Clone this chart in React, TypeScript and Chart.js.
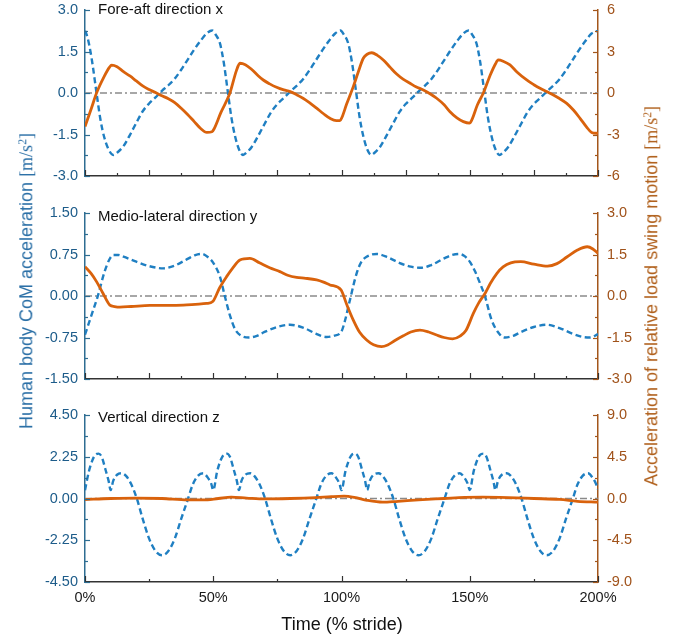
import React, { useEffect, useRef } from 'react';
import { Chart, registerables } from 'chart.js';
Chart.register(...registerables);

type Pt = [number, number];

const FONT = '"Liberation Sans", Arial, sans-serif';
const BLUE = '#1f7fc2';
const ORANGE = '#d9620c';
const GRAY = '#8a8a8a';
const LEFT_AXIS = '#2e6d92';
const LEFT_TEXT = '#1d5c8a';
const RIGHT_AXIS = '#a3561b';
const RIGHT_TEXT = '#a0521a';
const X_AXIS = '#333333';

// ---- x axis (time, % stride)
const xTickValues = [0, 50, 100, 150, 200];
const xTickLabels = ['0%', '50%', '100%', '150%', '200%'];
const zeroLine: Pt[] = [[0, 0], [200, 0]];

// ---- titles
const panelTitles = ['Fore-aft direction x', 'Medio-lateral direction y', 'Vertical direction z'];
const leftTitle = 'Human body CoM acceleration ';
const rightTitle = 'Acceleration of relative load swing motion ';
const xTitle = 'Time (% stride)';

// ---- y ticks
const leftTicksX = [-3, -1.5, 0, 1.5, 3];
const leftLabelsX = ['-3.0', '-1.5', '0.0', '1.5', '3.0'];
const rightTicksX = [-6, -3, 0, 3, 6];
const rightLabelsX = ['-6', '-3', '0', '3', '6'];
const leftTicksY = [-1.5, -0.75, 0, 0.75, 1.5];
const leftLabelsY = ['-1.50', '-0.75', '0.00', '0.75', '1.50'];
const rightTicksY = [-3, -1.5, 0, 1.5, 3];
const rightLabelsY = ['-3.0', '-1.5', '0.0', '1.5', '3.0'];
const leftTicksZ = [-4.5, -2.25, 0, 2.25, 4.5];
const leftLabelsZ = ['-4.50', '-2.25', '0.00', '2.25', '4.50'];
const rightTicksZ = [-9, -4.5, 0, 4.5, 9];
const rightLabelsZ = ['-9.0', '-4.5', '0.0', '4.5', '9.0'];

// ---- Fore-aft x : human body CoM acceleration (left axis)
const humanX: Pt[] = [
  [0, 2.25], [1, 2.0], [2.5, 1.3], [4.5, 0], [6, -0.95], [7.5, -1.6], [9, -2.0], [11, -2.24], [12.5, -2.16],
  [15, -1.92], [17.5, -1.52], [20, -1.08], [22.5, -0.66], [25, -0.38], [27.5, -0.16], [30, 0.08], [32.5, 0.28],
  [35, 0.52], [37.5, 0.84], [40, 1.2], [42.5, 1.56], [45, 1.88], [47.5, 2.16], [49.6, 2.26],
  [51, 2.1], [52.6, 1.8], [54.1, 1.1], [55.6, 0.1], [57.1, -0.9], [58.6, -1.6], [60.1, -2.05], [61.6, -2.24],
  [63, -2.15], [65, -1.95], [67.5, -1.55], [70, -1.12], [72.5, -0.7], [75, -0.4], [77.5, -0.18], [80, 0.05],
  [82.5, 0.26], [85, 0.5], [87.5, 0.82], [90, 1.18], [92.5, 1.54], [95, 1.87], [97.5, 2.15], [99.6, 2.26],
  [101, 2.1], [102.6, 1.8], [104.1, 1.1], [105.6, 0.1], [107.1, -0.9], [108.6, -1.6], [110.1, -2.05], [111.6, -2.24],
  [113, -2.15], [115, -1.95], [117.5, -1.55], [120, -1.12], [122.5, -0.7], [125, -0.4], [127.5, -0.18], [130, 0.05],
  [132.5, 0.26], [135, 0.5], [137.5, 0.82], [140, 1.18], [142.5, 1.54], [145, 1.87], [147.5, 2.15], [149.6, 2.26],
  [151, 2.1], [152.6, 1.8], [154.1, 1.1], [155.6, 0.1], [157.1, -0.9], [158.6, -1.6], [160.1, -2.05], [161.6, -2.24],
  [163, -2.15], [165, -1.95], [167.5, -1.55], [170, -1.12], [172.5, -0.7], [175, -0.4], [177.5, -0.18], [180, 0.05],
  [182.5, 0.26], [185, 0.5], [187.5, 0.82], [190, 1.18], [192.5, 1.54], [195, 1.87], [197.5, 2.15], [200, 2.25],
];

// ---- Fore-aft x : load swing acceleration (right axis)
const loadX: Pt[] = [
  [0, -2.43], [2.5, -1.1], [4.5, 0], [7.5, 1.2], [9.5, 1.85], [10.4, 2.02], [12.5, 1.9], [15, 1.54], [17.5, 1.23],
  [20, 0.87], [22.5, 0.51], [25, 0.25], [27.5, 0.03], [30, -0.2], [32.5, -0.42], [35, -0.7], [37.5, -1.1],
  [40, -1.55], [42.5, -2.05], [45, -2.55], [47.5, -2.85], [49.5, -2.8], [50.3, -2.6], [53, -1.4], [56.5, 0],
  [59, 1.6], [60.4, 2.15], [62.5, 2.05], [65, 1.7], [67.5, 1.25], [69.5, 0.94], [72, 0.66], [74.7, 0.41],
  [77.5, 0.22], [80, 0.1], [82.5, -0.12], [85, -0.38], [87.5, -0.7], [90.3, -1.1], [93, -1.5], [95.5, -1.83],
  [98, -2.0], [99.4, -2.0], [100.2, -1.75], [102, -0.8], [104.6, 0.46], [106.5, 1.5], [108.5, 2.51], [110, 2.8],
  [111.8, 2.91], [114, 2.72], [116.3, 2.39], [119, 1.85], [121.5, 1.37], [124, 1.0], [126.7, 0.7], [129, 0.45],
  [131.9, 0.22], [134.5, -0.05], [137.1, -0.38], [140, -0.85], [142.3, -1.35], [145, -1.8], [147.5, -2.07],
  [149.9, -2.18], [150.8, -1.95], [153, -0.85], [155.3, 0], [158, 1.3], [160, 2.1], [161.1, 2.39], [163, 2.3],
  [165.7, 2.03], [168.5, 1.5], [172.2, 0.94], [175, 0.6], [177.4, 0.34], [180, 0.1], [182.6, -0.14], [185, -0.4],
  [187.8, -0.75], [190.5, -1.25], [193, -1.83], [195.5, -2.45], [197.5, -2.85], [200, -2.92],
];

// ---- Medio-lateral y : human body (left axis)
const humanY: Pt[] = [
  [0, -0.7], [2.5, -0.35], [5, 0.0], [7.5, 0.42], [9.5, 0.66], [11, 0.74], [13, 0.74], [15, 0.71], [20, 0.62],
  [25, 0.54], [30.5, 0.5], [35, 0.55], [40, 0.67], [43, 0.74], [45.5, 0.76], [48, 0.7], [50, 0.6], [52.6, 0.35],
  [54.5, 0.0], [56.5, -0.35], [58.5, -0.6], [61, -0.72], [64, -0.75], [67, -0.72], [70, -0.65], [75, -0.56],
  [79.9, -0.52], [85, -0.57], [90, -0.68], [94.2, -0.74], [97, -0.72], [100, -0.64], [101.5, -0.42], [103.3, -0.07],
  [105.9, 0.41], [107.8, 0.62], [109.8, 0.71], [113.7, 0.76], [118, 0.7], [122.5, 0.6], [127, 0.53], [131.2, 0.51],
  [135, 0.56], [140, 0.68], [143, 0.74], [146.2, 0.76], [148, 0.72], [150, 0.62], [152, 0.45], [154, 0.23],
  [155.9, 0.0], [158.5, -0.43], [161.8, -0.7], [163.7, -0.75], [167, -0.72], [170, -0.65], [175, -0.56],
  [180, -0.52], [185, -0.58], [190, -0.68], [194, -0.74], [197, -0.75], [200, -0.69],
];

// ---- Medio-lateral y : load (right axis)
const loadY: Pt[] = [
  [0, 1.06], [2.5, 0.8], [4.5, 0.52], [7, 0.1], [9.7, -0.33], [11.5, -0.38], [13.6, -0.4], [18, -0.38],
  [25.3, -0.34], [32, -0.34], [38.3, -0.33], [43, -0.3], [47.4, -0.27], [49.8, -0.2], [52.5, 0.3], [55.2, 0.7],
  [57.5, 1.0], [60.4, 1.3], [64.3, 1.36], [68, 1.2], [72, 1.02], [76, 0.88], [79, 0.75], [82.5, 0.67], [86, 0.64],
  [90.3, 0.58], [93, 0.5], [95.5, 0.4], [99.8, 0.22], [102, -0.3], [104.6, -0.87], [107, -1.3], [109.8, -1.59],
  [112.5, -1.76], [115.6, -1.83], [118, -1.77], [121, -1.6], [124.1, -1.44], [127, -1.3], [130.6, -1.23],
  [134, -1.3], [137.1, -1.41], [140, -1.5], [143.3, -1.55], [146.2, -1.45], [148.5, -1.25], [151.4, -0.63],
  [153.5, -0.25], [156, 0.1], [158, 0.45], [160.6, 0.82], [163, 1.05], [166, 1.2], [169.9, 1.24], [175, 1.15],
  [180.3, 1.08], [184, 1.17], [188, 1.42], [192, 1.66], [195.8, 1.78], [198, 1.7], [200, 1.54],
];

// ---- Vertical z : human body (left axis)
const humanZ: Pt[] = [
  [0, 0.45], [1.5, 1.45], [3, 2.1], [4, 2.35], [5.3, 2.42], [6.5, 2.25], [8, 1.55], [9.2, 0.95], [10, 0.45],
  [11, 0.95], [12.5, 1.28], [14.4, 1.36], [16, 1.22], [18, 0.78], [20.2, 0], [22.5, -1.1], [25, -2.16],
  [27.5, -2.83], [30, -3.06], [32.5, -2.83], [35, -2.16], [37.5, -1.1], [40.2, 0], [42, 0.75], [44, 1.22],
  [46.1, 1.36], [48, 1.1], [49.2, 0.8],
  [50, 0.45], [51.5, 1.45], [53, 2.1], [54, 2.35], [55.3, 2.42], [56.5, 2.25], [58, 1.55], [59.2, 0.95], [60, 0.45],
  [61, 0.95], [62.5, 1.28], [64.4, 1.36], [66, 1.22], [68, 0.78], [70.2, 0], [72.5, -1.1], [75, -2.16],
  [77.5, -2.83], [80, -3.06], [82.5, -2.83], [85, -2.16], [87.5, -1.1], [90.2, 0], [92, 0.75], [94, 1.22],
  [96.1, 1.36], [98, 1.1], [99.2, 0.8],
  [100, 0.45], [101.5, 1.45], [103, 2.1], [104, 2.35], [105.3, 2.42], [106.5, 2.25], [108, 1.55], [109.2, 0.95],
  [110, 0.45], [111, 0.95], [112.5, 1.28], [114.4, 1.36], [116, 1.22], [118, 0.78], [120.2, 0], [122.5, -1.1],
  [125, -2.16], [127.5, -2.83], [130, -3.06], [132.5, -2.83], [135, -2.16], [137.5, -1.1], [140.2, 0], [142, 0.75],
  [144, 1.22], [146.1, 1.36], [148, 1.1], [149.2, 0.8],
  [150, 0.45], [151.5, 1.45], [153, 2.1], [154, 2.35], [155.3, 2.42], [156.5, 2.25], [158, 1.55], [159.2, 0.95],
  [160, 0.45], [161, 0.95], [162.5, 1.28], [164.4, 1.36], [166, 1.22], [168, 0.78], [170.2, 0], [172.5, -1.1],
  [175, -2.16], [177.5, -2.83], [180, -3.06], [182.5, -2.83], [185, -2.16], [187.5, -1.1], [190.2, 0], [192, 0.75],
  [194, 1.22], [196.1, 1.36], [198, 1.1], [199.2, 0.8], [200, 0.5],
];

// ---- Vertical z : load (right axis)
const loadZ: Pt[] = [
  [0, -0.12], [10, 0.0], [20, 0.05], [30, 0.0], [40, -0.15], [46, -0.15], [52, 0.0], [57, 0.15], [63, 0.05],
  [70, -0.05], [80, 0.0], [90, 0.1], [96, 0.2], [101, 0.25], [105, 0.12], [110, -0.2], [116, -0.4], [122, -0.3],
  [130, -0.15], [140, 0.0], [148, 0.12], [155, 0.15], [165, 0.1], [175, 0.0], [185, -0.1], [192, -0.3], [200, -0.4],
];

interface PanelSpec {
  top: number;
  height: number;
  padTop: number;
  xHeight: number;
  title: string;
  titleBaseline: number;
  blue: Pt[];
  orange: Pt[];
  leftTicks: number[];
  leftLabels: string[];
  rightTicks: number[];
  rightLabels: string[];
  xMajor: number;
  xMinor: number;
  showX: boolean;
}

const panels: PanelSpec[] = [
  {
    top: 0, height: 200, padTop: 10, xHeight: 24, title: panelTitles[0], titleBaseline: 14,
    blue: humanX, orange: loadX, leftTicks: leftTicksX, leftLabels: leftLabelsX,
    rightTicks: rightTicksX, rightLabels: rightLabelsX, xMajor: 25, xMinor: 12.5, showX: false,
  },
  {
    top: 200, height: 200, padTop: 13, xHeight: 21, title: panelTitles[1], titleBaseline: 21,
    blue: humanY, orange: loadY, leftTicks: leftTicksY, leftLabels: leftLabelsY,
    rightTicks: rightTicksY, rightLabels: rightLabelsY, xMajor: 25, xMinor: 12.5, showX: false,
  },
  {
    top: 400, height: 239, padTop: 15, xHeight: 57, title: panelTitles[2], titleBaseline: 21.5,
    blue: humanZ, orange: loadZ, leftTicks: leftTicksZ, leftLabels: leftLabelsZ,
    rightTicks: rightTicksZ, rightLabels: rightLabelsZ, xMajor: 50, xMinor: 25, showX: true,
  },
];

const toXY = (arr: Pt[]) => arr.map(([x, y]) => ({ x, y }));

function withMidpoints(ticks: number[]): { v: number; major: boolean }[] {
  const out: { v: number; major: boolean }[] = [];
  ticks.forEach((t, i) => {
    out.push({ v: t, major: true });
    if (i < ticks.length - 1) out.push({ v: (t + ticks[i + 1]) / 2, major: false });
  });
  return out;
}

const panelDecor = {
  id: 'panelDecor',
  afterDraw(chart: any, _args: any, opts: any) {
    const { ctx, chartArea: a, scales } = chart;
    ctx.save();
    ctx.lineWidth = 1.2;
    // x ticks (inside)
    ctx.strokeStyle = X_AXIS;
    const sx = scales.x;
    const xt: { v: number; major: boolean }[] = [];
    for (let i = 0; i < xTickValues.length; i++) {
      const t = xTickValues[i];
      if (i > 0) {
        const prev = xTickValues[i - 1];
        for (let v = prev + opts.xMinor; v < t - 1e-6; v += opts.xMinor) {
          xt.push({ v, major: Math.abs(v / opts.xMajor - Math.round(v / opts.xMajor)) < 1e-6 });
        }
      }
      xt.push({ v: t, major: true });
    }
    xt.forEach(({ v, major }) => {
      const px = Math.round(sx.getPixelForValue(v)) + 0.5;
      ctx.beginPath();
      ctx.moveTo(px, a.bottom);
      ctx.lineTo(px, a.bottom - (major ? 6 : 3));
      ctx.stroke();
    });
    // left ticks
    ctx.strokeStyle = LEFT_AXIS;
    withMidpoints(opts.leftTicks).forEach(({ v, major }) => {
      const py = Math.round(scales.yl.getPixelForValue(v)) + 0.5;
      ctx.beginPath();
      ctx.moveTo(a.left, py);
      ctx.lineTo(a.left + (major ? 5 : 3), py);
      ctx.stroke();
    });
    // right ticks
    ctx.strokeStyle = RIGHT_AXIS;
    withMidpoints(opts.rightTicks).forEach(({ v, major }) => {
      const py = Math.round(scales.yr.getPixelForValue(v)) + 0.5;
      ctx.beginPath();
      ctx.moveTo(a.right, py);
      ctx.lineTo(a.right - (major ? 5 : 3), py);
      ctx.stroke();
    });
    // panel title
    ctx.fillStyle = '#111111';
    ctx.font = `15px ${FONT}`;
    ctx.textAlign = 'left';
    ctx.textBaseline = 'alphabetic';
    ctx.fillText(opts.title, a.left + 13, opts.titleBaseline);
    ctx.restore();
  },
};

const noPadFit = (width?: number, height?: number) => (s: any) => {
  if (width !== undefined) s.width = width;
  if (height !== undefined) s.height = height;
  s.paddingTop = 0;
  s.paddingBottom = 0;
  s.paddingLeft = 0;
  s.paddingRight = 0;
};

function makeChart(canvas: HTMLCanvasElement, p: PanelSpec) {
  return new Chart(canvas, {
    type: 'line',
    data: {
      datasets: [
        {
          label: 'zero',
          data: toXY(zeroLine),
          yAxisID: 'yl',
          borderColor: GRAY,
          borderWidth: 1.3,
          borderDash: [7, 3, 2, 3],
          pointRadius: 0,
          order: 3,
        },
        {
          label: 'Human body CoM',
          data: toXY(p.blue),
          yAxisID: 'yl',
          borderColor: BLUE,
          borderWidth: 2.4,
          borderDash: [6, 3.5],
          pointRadius: 0,
          cubicInterpolationMode: 'monotone',
          order: 2,
        },
        {
          label: 'Load swing',
          data: toXY(p.orange),
          yAxisID: 'yr',
          borderColor: ORANGE,
          borderWidth: 2.8,
          pointRadius: 0,
          cubicInterpolationMode: 'monotone',
          order: 1,
        },
      ] as any,
    },
    options: {
      animation: false,
      responsive: false,
      devicePixelRatio: 1,
      layout: { padding: { top: p.padTop, bottom: 0, left: 0, right: 0 } },
      plugins: {
        legend: { display: false },
        tooltip: { enabled: false },
        panelDecor: {
          title: p.title,
          titleBaseline: p.titleBaseline,
          xMajor: p.xMajor,
          xMinor: p.xMinor,
          leftTicks: p.leftTicks,
          rightTicks: p.rightTicks,
        },
      } as any,
      scales: {
        x: {
          type: 'linear',
          min: 0,
          max: 200,
          afterBuildTicks: (s: any) => {
            s.ticks = xTickValues.map((v) => ({ value: v }));
          },
          afterFit: noPadFit(undefined, p.xHeight),
          ticks: {
            display: p.showX,
            callback: (_v: any, i: number) => xTickLabels[i],
            font: { family: FONT, size: 14.5 },
            color: '#1a1a1a',
            padding: 7,
            maxRotation: 0,
            autoSkip: false,
          },
          grid: { display: false, drawTicks: false },
          border: { display: true, color: X_AXIS, width: 1.5 },
        },
        yl: {
          type: 'linear',
          position: 'left',
          min: p.leftTicks[0],
          max: p.leftTicks[p.leftTicks.length - 1],
          afterBuildTicks: (s: any) => {
            s.ticks = p.leftTicks.map((v) => ({ value: v }));
          },
          afterFit: noPadFit(85, undefined),
          ticks: {
            callback: (_v: any, i: number) => p.leftLabels[i],
            font: { family: FONT, size: 14.5 },
            color: LEFT_TEXT,
            padding: 7,
            autoSkip: false,
          },
          grid: { display: false, drawTicks: false },
          border: { display: true, color: LEFT_AXIS, width: 1.5 },
        },
        yr: {
          type: 'linear',
          position: 'right',
          min: p.rightTicks[0],
          max: p.rightTicks[p.rightTicks.length - 1],
          afterBuildTicks: (s: any) => {
            s.ticks = p.rightTicks.map((v) => ({ value: v }));
          },
          afterFit: noPadFit(691 - 598, undefined),
          ticks: {
            callback: (_v: any, i: number) => p.rightLabels[i],
            font: { family: FONT, size: 14.5 },
            color: RIGHT_TEXT,
            padding: 9,
            autoSkip: false,
          },
          grid: { display: false, drawTicks: false },
          border: { display: true, color: RIGHT_AXIS, width: 1.5 },
        },
      } as any,
    },
    plugins: [panelDecor],
  });
}

const Units = () => (
  <span style={{ fontFamily: '"Liberation Serif", "Times New Roman", serif' }}>
    [m/s<span style={{ fontSize: '0.65em', verticalAlign: '0.55em' }}>2</span>]
  </span>
);

export default function App() {
  const refs = [useRef<HTMLCanvasElement>(null), useRef<HTMLCanvasElement>(null), useRef<HTMLCanvasElement>(null)];

  useEffect(() => {
    const charts = panels.map((p, i) => makeChart(refs[i].current as HTMLCanvasElement, p));
    return () => charts.forEach((c) => c.destroy());
  }, []);

  return (
    <div style={{ position: 'absolute', left: 0, top: 0, width: 691, height: 639, background: '#ffffff', overflow: 'hidden' }}>
      {panels.map((p, i) => (
        <canvas
          key={i}
          ref={refs[i]}
          width={691}
          height={p.height}
          style={{ position: 'absolute', left: 0, top: p.top, width: 691, height: p.height }}
        />
      ))}
      <div
        style={{
          position: 'absolute', left: 25, top: 281, transform: 'translate(-50%, -50%) rotate(-90deg)',
          whiteSpace: 'nowrap', fontFamily: FONT, fontSize: 18, color: '#2a6fa6', lineHeight: '20px',
        }}
      >
        {leftTitle}<Units />
      </div>
      <div
        style={{
          position: 'absolute', left: 650, top: 296, transform: 'translate(-50%, -50%) rotate(-90deg)',
          whiteSpace: 'nowrap', fontFamily: FONT, fontSize: 18, color: '#b0601c', lineHeight: '20px',
        }}
      >
        {rightTitle}<Units />
      </div>
      <div
        style={{
          position: 'absolute', left: 342, top: 624, transform: 'translate(-50%, -50%)',
          whiteSpace: 'nowrap', fontFamily: FONT, fontSize: 18, color: '#111111', lineHeight: '20px',
        }}
      >
        {xTitle}
      </div>
    </div>
  );
}
